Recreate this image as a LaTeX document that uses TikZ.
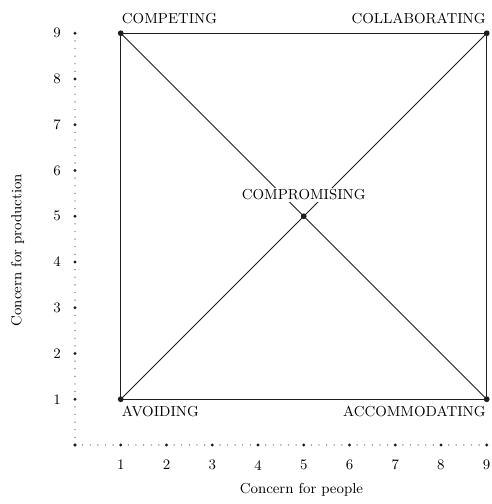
\documentclass[tikz,border=0pt]{standalone}
\usepackage{tikz}
\usetikzlibrary{positioning,calc}
\definecolor{InkGray}{RGB}{30,30,30}
\tikzset{
  corner/.style={circle,fill=InkGray,inner sep=0pt,minimum size=3.6pt},
  modelabel/.style={font=\small,inner sep=2pt},
  ticklabel/.style={font=\small},
  axistitle/.style={font=\small},
  frameline/.style={draw=InkGray,line width=0.8pt},
  diagline/.style={draw=InkGray,line width=0.6pt},
  majordot/.style={fill=InkGray},
  minordot/.style={fill=InkGray!70}
}

\begin{document}
\begin{tikzpicture}[x=1cm,y=1cm]
  \useasboundingbox (-1.639,-1.290) rectangle (9.115,9.727);

  % dotted axes
  \coordinate (origin) at (0,0);
  \foreach \i in {0,...,9} {
    \fill[majordot] (\i,0) circle (1pt);
    \fill[majordot] (0,\i) circle (1pt);
  }
  \foreach \i in {0,...,8} {
    \foreach \j in {1,...,5} {
      \fill[minordot] ({\i+\j/6},0) circle (0.45pt);
      \fill[minordot] (0,{\i+\j/6}) circle (0.45pt);
    }
  }
  \foreach \i in {1,...,9} {
    \node[ticklabel] (xt\i) at (\i,-0.44) {\i};
    \node[ticklabel] (yt\i) at (-0.39,\i) {\i};
  }
  \node[axistitle] (xtitle) at (4.95,-0.98) {Concern for people};
  \node[axistitle,rotate=90] (ytitle) at (-1.25,4.26) {Concern for production};

  % grid corners
  \node[corner] (avoid) at (1,1) {};
  \node[corner] (compete) at (1,9) {};
  \node[corner] (collab) at (9,9) {};
  \node[corner] (accom) at (9,1) {};
  \node[corner] (compro) at (5,5) {};

  \draw[frameline] (avoid.center) -- (compete.center) -- (collab.center) -- (accom.center) -- cycle;
  \draw[diagline] (compete.center) -- (accom.center);
  \draw[diagline] (avoid.center) -- (collab.center);

  \node[modelabel,anchor=south west] (competelbl) at ($(compete)+(-0.05,0.12)$) {COMPETING};
  \node[modelabel,anchor=south east] (collablbl) at ($(collab)+(0.05,0.12)$) {COLLABORATING};
  \node[modelabel,anchor=north west] (avoidlbl) at ($(avoid)+(-0.05,-0.08)$) {AVOIDING};
  \node[modelabel,anchor=north east] (accomlbl) at ($(accom)+(0.05,-0.08)$) {ACCOMMODATING};
  \node[modelabel,fill=white,inner sep=1pt] (comprolbl) at (5,5.47) {COMPROMISING};
\end{tikzpicture}
\end{document}
